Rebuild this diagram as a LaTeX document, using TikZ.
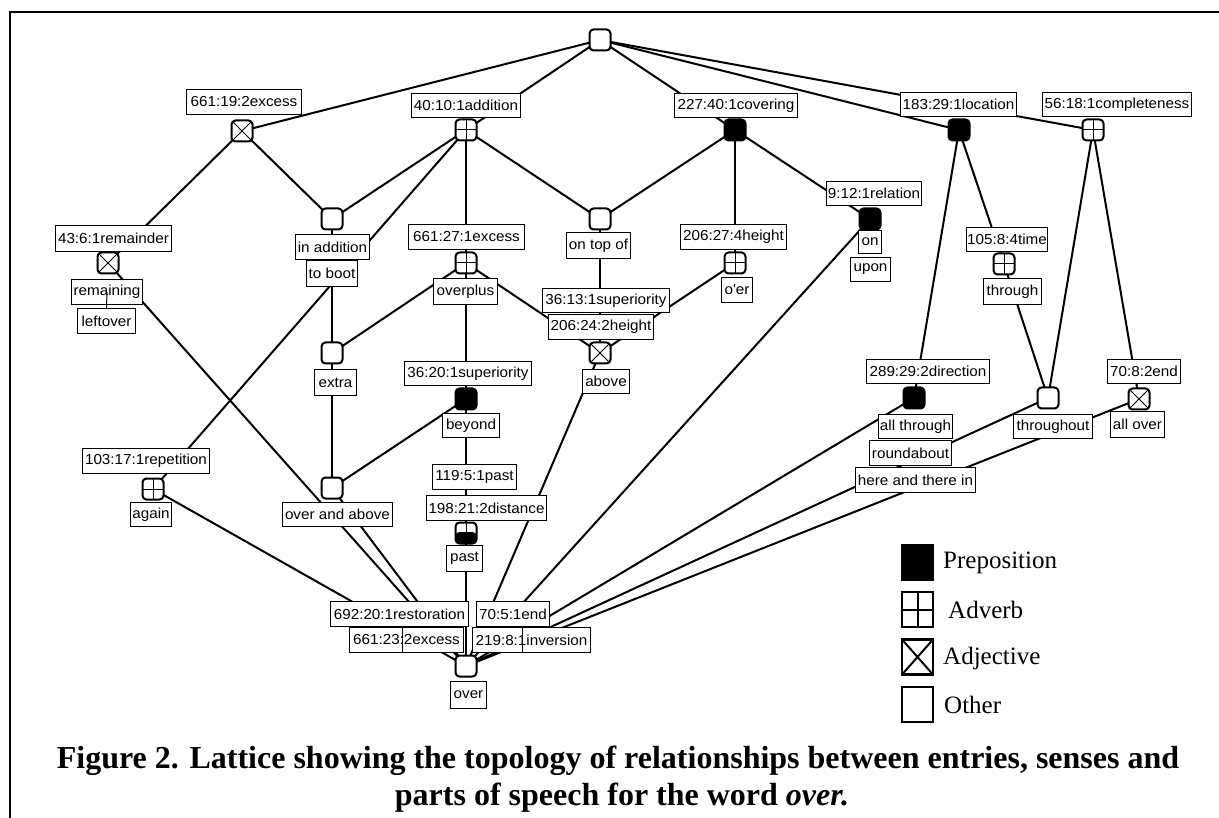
\documentclass[tikz,border=0pt]{standalone}
\usepackage{fontspec}
\setmainfont{Liberation Serif}
\newfontfamily\labfont[FakeStretch=1.05]{Liberation Sans}
\newcommand\lf{\labfont\fontsize{14.5pt}{16pt}\selectfont}
\newcommand\legf{\fontsize{25pt}{28pt}\selectfont}
\newcommand\capf{\fontsize{32pt}{37pt}\selectfont\bfseries}
\pgfdeclarelayer{edges}
\pgfsetlayers{edges,main}
\tikzset{
  pnode/.style={draw, line width=2pt, rounded corners=4pt, minimum size=21pt, inner sep=0pt, fill=white},
  other/.style={pnode},
  prep/.style={pnode, fill=black},
  adv/.style={pnode, path picture={\draw[line width=1pt] (path picture bounding box.north) -- (path picture bounding box.south) (path picture bounding box.west) -- (path picture bounding box.east);}},
  adj/.style={pnode, path picture={\draw[line width=0.8pt] (path picture bounding box.north west) -- (path picture bounding box.south east) (path picture bounding box.north east) -- (path picture bounding box.south west);}},
  mixnode/.style={pnode, path picture={\fill[black] (path picture bounding box.west) ++(0,-1) rectangle (path picture bounding box.south east); \draw[line width=1pt] (path picture bounding box.north) -- (path picture bounding box.center);}},
  lab/.style={draw, line width=1pt, fill=white, inner sep=0pt, font=\lf},
  edge/.style={line width=2pt},
  thinline/.style={line width=1pt},
  legsq/.style={draw, line width=2.5pt, minimum width=31pt, minimum height=35pt, inner sep=0pt, fill=white},
  legtxt/.style={anchor=west, inner sep=0pt, font=\legf},
}
\newcommand\lbl[6]{\node[lab, minimum width={#4-#2-1}, minimum height={#5-#3-1}] (#1) at ({(#2+#4)/2},{(#3+#5)/2}) {#6};}
\begin{document}
\begin{tikzpicture}[x=1pt,y=-1pt]
\useasboundingbox (0,0) rectangle (1219,818);
% frame
\coordinate (fbl) at (10,818);
\coordinate (ftl) at (10,12);
\coordinate (ftr) at (1219,12);
\draw[line width=2.5pt] (fbl) -- (ftl) -- (ftr);

% lattice nodes
\node[other] (top) at (600,40) {};
\node[adj] (exc19) at (242,131) {};
\node[adv] (add) at (466,130) {};
\node[prep] (cov) at (735,130) {};
\node[prep] (loc) at (959,130) {};
\node[adv] (comp) at (1093,130) {};
\node[other] (inadd) at (332,219) {};
\node[other] (ontop) at (600,219) {};
\node[prep] (rel) at (870,219) {};
\node[adj] (rem) at (108,263) {};
\node[adv] (exc27) at (466,263) {};
\node[adv] (h27) at (735,263) {};
\node[adv] (time) at (1004,264) {};
\node[other] (extra) at (332,353) {};
\node[adj] (above) at (600,353) {};
\node[prep] (sup20) at (466,399) {};
\node[prep] (dir) at (914,398) {};
\node[other] (thro) at (1048,398) {};
\node[adj] (end8) at (1139,399) {};
\node[adv] (rep) at (153,489) {};
\node[other] (ovab) at (332,488) {};
\node[mixnode] (past) at (466,533) {};
\node[other] (over) at (466,666) {};

% edges
\begin{pgfonlayer}{edges}
\foreach \a/\b in {top/exc19, top/add, top/cov, top/loc, top/comp,
  exc19/rem, exc19/inadd,
  add/inadd, add/rep, add/exc27, add/ontop,
  cov/ontop, cov/h27, cov/rel,
  loc/time, loc/dir, comp/thro, comp/end8,
  ontop/above, exc27/extra, exc27/above, exc27/sup20, h27/above,
  time/thro, inadd/extra, extra/ovab, sup20/ovab, sup20/past,
  rem/over, rep/over, ovab/over, past/over, above/over, rel/over,
  dir/over, thro/over, end8/over}
  \draw[edge] (\a.center) -- (\b.center);
\end{pgfonlayer}

% labels
\lbl{Lexc19}{186}{89}{302}{115}{661:19:2excess}
\lbl{Ladd}{411}{93}{521}{118}{40:10:1addition}
\lbl{Lcov}{674}{93}{798}{118}{227:40:1covering}
\lbl{Lloc}{900}{92}{1017}{117}{183:29:1location}
\lbl{Lcomp}{1042}{92}{1192}{117}{56:18:1completeness}
\lbl{Lrem}{55}{225}{172}{252}{43:6:1remainder}
\lbl{Linadd}{295}{234}{370}{260}{in addition}
\lbl{Lboot}{306}{260}{358}{287}{to boot}
\lbl{Lexc27}{408}{224}{525}{250}{661:27:1excess}
\lbl{Lontop}{566}{232}{631}{259}{on top of}
\lbl{Lh27}{680}{224}{787}{250}{206:27:4height}
\lbl{Lrel}{826}{181}{922}{206}{9:12:1relation}
\lbl{Lon}{858}{230}{882}{254}{on}
\lbl{Lupon}{850}{257}{891}{282}{upon}
\lbl{Ltime}{966}{227}{1048}{252}{105:8:4time}
\lbl{Lremaining}{71}{279}{143}{305}{remaining}
\lbl{Lleftover}{77}{308}{136}{334}{leftover}
\lbl{Loverplus}{433}{278}{498}{305}{overplus}
\lbl{Lsup13}{542}{288}{670}{313}{36:13:1superiority}
\lbl{Lh24}{548}{314}{654}{340}{206:24:2height}
\lbl{Loer}{721}{277}{753}{303}{o\textquotesingle er}
\lbl{Lthrough}{983}{278}{1042}{305}{through}
\lbl{Lextra}{314}{369}{357}{396}{extra}
\lbl{Lsup20}{404}{361}{532}{386}{36:20:1superiority}
\lbl{Labove}{582}{369}{630}{394}{above}
\lbl{Ldir}{866}{359}{990}{384}{289:29:2direction}
\lbl{Lend8}{1107}{359}{1181}{384}{70:8:2end}
\lbl{Lbeyond}{442}{413}{500}{438}{beyond}
\lbl{Lallthrough}{878}{414}{953}{439}{all through}
\lbl{Lthroughout}{1013}{414}{1093}{439}{throughout}
\lbl{Lallover}{1110}{411}{1165}{438}{all over}
\lbl{Lroundabout}{869}{440}{952}{466}{roundabout}
\lbl{Lhere}{855}{467}{976}{493}{here and there in}
\lbl{Lrep}{82}{448}{210}{474}{103:17:1repetition}
\lbl{Lagain}{130}{502}{172}{527}{again}
\lbl{Lovab}{282}{502}{393}{527}{over and above}
\lbl{Lpast119}{432}{464}{517}{490}{119:5:1past}
\lbl{Ldist}{426}{495}{547}{521}{198:21:2distance}
\lbl{Lpast}{446}{545}{483}{572}{past}
\lbl{Lrest}{330}{601}{469}{627}{692:20:1restoration}
\lbl{Lend5}{476}{601}{550}{627}{70:5:1end}
\lbl{Lexc23}{349}{627}{464}{653}{661:23:2excess}
\lbl{Linv}{472}{627}{591}{653}{219:8:1inversion}
\lbl{Lover}{450}{681}{487}{709}{over}

% label connector strokes over labels
\draw[thinline] (Lremaining.center) -- (Lleftover.north);
\coordinate (va1) at (402,627); \coordinate (va2) at (402,653);
\coordinate (vb1) at (522,627); \coordinate (vb2) at (522,653);
\draw[thinline] (va1) -- (va2);
\draw[thinline] (vb1) -- (vb2);

% legend
\node[legsq, fill=black] (legP) at (917.5,562.5) {};
\node[legsq, path picture={\draw[line width=2pt] (path picture bounding box.north) -- (path picture bounding box.south) (path picture bounding box.west) -- (path picture bounding box.east);}] (legAdv) at (917.5,609.5) {};
\node[legsq, path picture={\draw[line width=2pt] (path picture bounding box.north west) -- (path picture bounding box.south east) (path picture bounding box.north east) -- (path picture bounding box.south west);}] (legAdj) at (917.5,657) {};
\node[legsq] (legO) at (917.5,704.5) {};
\node[legtxt] (tP) at (943,563) {Preposition};
\node[legtxt] (tAdv) at (948,610) {Adverb};
\node[legtxt] (tAdj) at (943,658) {Adjective};
\node[legtxt] (tO) at (944,705) {Other};

% caption
\node[anchor=base, inner sep=0pt, font=\capf] (cap1) at (618,768) {Figure 2. Lattice showing the topology of relationships between entries, senses and};
\node[anchor=base, inner sep=0pt, font=\capf] (cap2) at (622,805) {parts of speech for the word \textit{over.}};
\end{tikzpicture}
\end{document}
